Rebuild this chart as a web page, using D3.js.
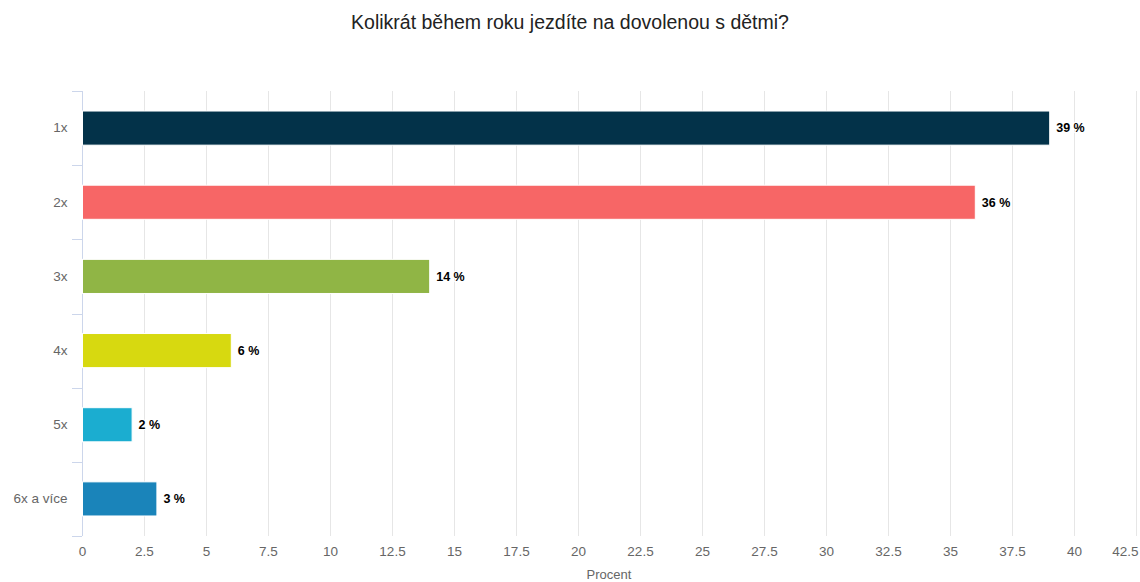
<!DOCTYPE html>
<html>
<head>
<meta charset="utf-8">
<script src="https://cdn.jsdelivr.net/npm/d3@7"></script>
<style>
  body { margin: 0; background: #fff; }
  svg { font-family: "Liberation Sans", Arial, sans-serif; }
</style>
</head>
<body>
<svg id="chart"></svg>
<script>
'use strict';

const categories = ['1x', '2x', '3x', '4x', '5x', '6x a více'];
const values = [39, 36, 14, 6, 2, 3];
const colors = ['#033249', '#f76666', '#90b545', '#d7d910', '#1badd0', '#1a84ba'];
const xTicks = [0, 2.5, 5, 7.5, 10, 12.5, 15, 17.5, 20, 22.5, 25, 27.5, 30, 32.5, 35, 37.5, 40, 42.5];

const width = 1140;
const height = 582;
const margin = { top: 91, right: 4, bottom: 46, left: 82 };

const svg = d3.select('#chart')
  .attr('width', width)
  .attr('height', height);

const x = d3.scaleLinear()
  .domain([0, 42.5])
  .range([margin.left, width - margin.right]);

const y = d3.scaleBand()
  .domain(categories)
  .range([margin.top, height - margin.bottom])
  .paddingInner(0.54)
  .paddingOuter(0.27);

// title
svg.append('text')
  .attr('x', width / 2)
  .attr('y', 29)
  .attr('text-anchor', 'middle')
  .style('font-size', '19.5px')
  .style('fill', '#222')
  .text('Kolikrát během roku jezdíte na dovolenou s dětmi?');

// gridlines
svg.append('g')
  .selectAll('line')
  .data(xTicks)
  .join('line')
  .attr('x1', d => Math.round(x(d)) + 0.5)
  .attr('x2', d => Math.round(x(d)) + 0.5)
  .attr('y1', margin.top)
  .attr('y2', height - margin.bottom)
  .attr('stroke', '#e6e6e6');

// x axis labels
const xAxis = d3.axisBottom(x)
  .tickValues(xTicks)
  .tickSize(0)
  .tickPadding(10)
  .tickFormat(d => String(d));

const gx = svg.append('g')
  .attr('transform', 'translate(0,' + (height - margin.bottom) + ')')
  .call(xAxis);
gx.select('.domain').remove();
gx.selectAll('text')
  .style('font-size', '13.5px')
  .style('fill', '#666')
  .style('font-family', '"Liberation Sans", Arial, sans-serif');
gx.selectAll('.tick:last-of-type text')
  .attr('text-anchor', 'end')
  .attr('dx', '2px');

svg.append('text')
  .attr('x', (margin.left + width - margin.right) / 2)
  .attr('y', height - 3)
  .attr('text-anchor', 'middle')
  .style('font-size', '13px')
  .style('fill', '#666')
  .text('Procent');

// y axis
const yAxis = d3.axisLeft(y).tickSize(0).tickPadding(15);
const gy = svg.append('g')
  .attr('transform', 'translate(' + (margin.left + 0.5) + ',0)')
  .call(yAxis);
gy.select('.domain').remove();
gy.selectAll('text')
  .style('font-size', '13.5px')
  .style('fill', '#666')
  .style('font-family', '"Liberation Sans", Arial, sans-serif');

// y axis line and band ticks
const step = y.step();
const bandEdges = d3.range(categories.length + 1).map(i => margin.top + i * step);
svg.append('g')
  .selectAll('line')
  .data(bandEdges)
  .join('line')
  .attr('x1', margin.left - 10)
  .attr('x2', margin.left)
  .attr('y1', d => Math.round(d) + 0.5)
  .attr('y2', d => Math.round(d) + 0.5)
  .attr('stroke', '#ccd6eb');
svg.append('line')
  .attr('x1', margin.left + 0.5)
  .attr('x2', margin.left + 0.5)
  .attr('y1', margin.top)
  .attr('y2', height - margin.bottom)
  .attr('stroke', '#ccd6eb');

// bars
svg.append('g')
  .selectAll('rect')
  .data(values)
  .join('rect')
  .attr('x', x(0) + 0.5)
  .attr('y', (d, i) => y(categories[i]))
  .attr('width', d => x(d) - x(0))
  .attr('height', y.bandwidth())
  .attr('fill', (d, i) => colors[i])
  .attr('stroke', '#ffffff')
  .attr('stroke-width', 1);

// data labels
svg.append('g')
  .selectAll('text')
  .data(values)
  .join('text')
  .attr('x', d => x(d) + 7)
  .attr('y', (d, i) => y(categories[i]) + y.bandwidth() / 2)
  .attr('dy', '0.35em')
  .style('font-size', '12.5px')
  .style('font-weight', 'bold')
  .style('fill', '#000')
  .style('paint-order', 'stroke')
  .style('stroke', '#fff')
  .style('stroke-width', '2px')
  .text(d => d + ' %');
</script>
</body>
</html>
